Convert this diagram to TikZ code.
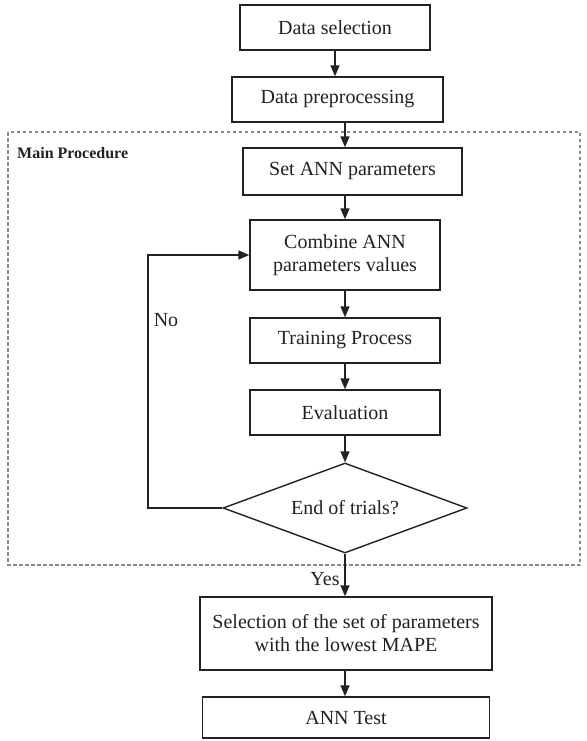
\documentclass[tikz,border=0pt]{standalone}
\usepackage{fontspec}
\setmainfont{Liberation Serif}
\usetikzlibrary{shapes.geometric,arrows.meta}
\definecolor{ink}{HTML}{222222}
\definecolor{frame}{HTML}{8A8A8A}
\tikzset{
  x=1pt, y=-1pt,
  stepbox/.style={draw=ink, line width=1.4pt, fill=white, text=ink,
    font=\fontsize{20}{23}\selectfont, align=center, inner sep=0pt},
  decision/.style={diamond, draw=ink, line width=1.4pt, fill=white, text=ink,
    font=\fontsize{20}{23}\selectfont, inner sep=0pt, aspect=2.7},
  flow/.style={draw=ink, line width=1.4pt, -{Triangle[length=11pt,width=9pt]}},
  lbl/.style={text=ink, font=\fontsize{20}{23}\selectfont, inner sep=0pt}
}
\begin{document}
\begin{tikzpicture}
\useasboundingbox (0,0) rectangle (586,741);
\fill[white] (0,0) rectangle (586,741);

% main procedure frame
\draw[frame, line width=1.2pt, dash pattern=on 3.5pt off 2.5pt] (8,132) rectangle (580,565);
\node[anchor=west, text=ink, font=\fontsize{16}{19}\selectfont\bfseries, inner sep=0pt] (mp) at (17,153) {Main Procedure};

% steps
\node[stepbox, minimum width=190pt, minimum height=45pt] (ds) at (335,27.5) {Data selection};
\node[stepbox, minimum width=211pt, minimum height=45pt] (dp) at (337.5,99.5) {Data preprocessing};
\node[stepbox, minimum width=219pt, minimum height=47pt] (sp) at (352.5,171.5) {Set ANN parameters};
\node[stepbox, minimum width=190pt, minimum height=70pt] (cb) at (345,255) {Combine ANN\\parameters values};
\node[stepbox, minimum width=190pt, minimum height=45pt] (tp) at (345,340.5) {Training Process};
\node[stepbox, minimum width=190pt, minimum height=45pt] (ev) at (345,412.5) {Evaluation};
\node[decision, minimum width=244pt, minimum height=90pt] (dm) at (345,508) {End of trials?};
\node[stepbox, minimum width=292pt, minimum height=73pt] (sel) at (346,633.5) {Selection of the set of parameters\\with the lowest MAPE};
\node[stepbox, minimum width=287pt, minimum height=41pt] (test) at (346,717.5) {ANN Test};

% connectors
\coordinate (loop) at (148,508);
\draw[flow] (ds.south) -- (ds.south |- dp.north);
\draw[flow] (dp.south -| cb) -- (sp.north -| cb);
\draw[flow] (sp.south -| cb) -- (cb.north);
\draw[flow] (cb.south) -- (tp.north);
\draw[flow] (tp.south) -- (ev.north);
\draw[flow] (ev.south) -- (dm.north);
\draw[flow] (dm.west) -- (loop) |- (cb.west);
\draw[flow] (dm.south) -- (dm.south |- sel.north);
\draw[flow] (sel.south -| dm) -- (test.north -| dm);

% branch labels
\node[lbl] (no) at (166,320) {No};
\node[lbl] (yes) at (325,579) {Yes};
\end{tikzpicture}
\end{document}
